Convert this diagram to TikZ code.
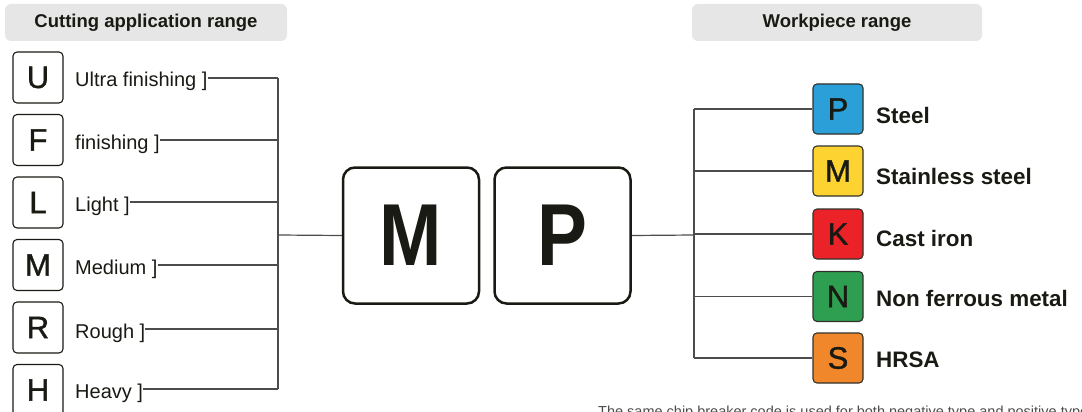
\documentclass[tikz,border=0pt]{standalone}
\usepackage{fontspec}
\setmainfont{Liberation Sans}
\newfontfamily\medfont[FakeBold=1.2]{Liberation Sans}
\definecolor{ink}{HTML}{1A1A14}
\definecolor{hdrgray}{HTML}{E6E6E6}
\definecolor{cP}{HTML}{2A9FD8}
\definecolor{cM}{HTML}{FDD332}
\definecolor{cK}{HTML}{EC2229}
\definecolor{cN}{HTML}{2E9E50}
\definecolor{cS}{HTML}{F0872A}
\newcommand{\narrowltr}[1]{\scalebox{0.85}[1]{#1}}
\begin{document}
\begin{tikzpicture}[x=1pt,y=-1pt,
  hdr/.style={fill=hdrgray, rounded corners=6pt, minimum height=37pt, inner sep=0pt,
    text=ink, font=\bfseries\fontsize{18.5}{20}\selectfont},
  lbox/.style={draw=ink, line width=1.1pt, rounded corners=4pt, fill=white,
    minimum width=50pt, minimum height=51pt, inner sep=0pt, text=ink,
    font=\medfont\fontsize{31}{31}\selectfont},
  cbox/.style={draw=ink!90, line width=1.1pt, rounded corners=4pt,
    minimum width=50pt, minimum height=50pt, inner sep=0pt, text=ink,
    font=\medfont\fontsize{31}{31}\selectfont},
  bigbox/.style={draw=ink, line width=2.5pt, rounded corners=12pt, fill=white,
    minimum width=136pt, minimum height=136pt, inner sep=0pt, text=ink,
    font=\bfseries\fontsize{88}{88}\selectfont},
  lab/.style={anchor=base west, inner sep=0pt, text=ink, font=\fontsize{20}{22}\selectfont},
  rlab/.style={anchor=base west, inner sep=0pt, text=ink, font=\bfseries\fontsize{22.4}{24}\selectfont},
  conn/.style={draw=black!70, line width=1.2pt},
]
\useasboundingbox (0,0) rectangle (1082,412);
\clip (0,0) rectangle (1082,412);

% headers
\node[hdr, minimum width=282pt] (h1) at (146,22.5) {Cutting application range};
\node[hdr, minimum width=290pt] (h2) at (837,22.5) {Workpiece range};

% left letter boxes
\node[lbox] (bU) at (38,77.5) {U};
\node[lbox] (bF) at (38,140) {F};
\node[lbox] (bL) at (38,202.5) {L};
\node[lbox] (bM) at (38,265) {M};
\node[lbox] (bR) at (38,327.5) {R};
\node[lbox] (bH) at (38,390) {H};

% left labels
\node[lab] (tU) at (75,87) {Ultra finishing ]};
\node[lab] (tF) at (75,149) {finishing ]};
\node[lab] (tL) at (75,211) {Light ]};
\node[lab] (tM) at (75,274) {Medium ]};
\node[lab] (tR) at (75,338) {Rough ]};
\node[lab] (tH) at (75,398) {Heavy ]};

% left junctions
\coordinate (jU) at (278,78);
\coordinate (jF) at (278,140);
\coordinate (jL) at (278,202);
\coordinate (jM) at (278,265);
\coordinate (jR) at (278,329);
\coordinate (jH) at (278,389);
\coordinate (jC) at (278,235);

% big boxes
\node[bigbox] (bigM) at (411,235.5) {\narrowltr{M}};
\node[bigbox] (bigP) at (562.5,235.5) {\narrowltr{P}};

% right trunk
\coordinate (tr) at (694,0);
\coordinate (jRC) at (694,235);

% colored boxes
\node[cbox, fill=cP] (kP) at (838,109) {P};
\node[cbox, fill=cM] (kM) at (838,171) {M};
\node[cbox, fill=cK] (kK) at (838,234) {K};
\node[cbox, fill=cN] (kN) at (838,296.5) {N};
\node[cbox, fill=cS] (kS) at (838,358) {S};

% right labels
\node[rlab] (lP) at (876,123) {Steel};
\node[rlab] (lM) at (876,184) {Stainless steel};
\node[rlab] (lK) at (876,246) {Cast iron};
\node[rlab] (lN) at (876,306) {Non ferrous metal};
\node[rlab] (lS) at (876,367) {HRSA};

% connectors left
\draw[conn] (jU -| tU.east) -- (jU);
\draw[conn] (jF -| tF.east) -- (jF);
\draw[conn] (jL -| tL.east) -- (jL);
\draw[conn] (jM -| tM.east) -- (jM);
\draw[conn] (jR -| tR.east) -- (jR);
\draw[conn] (jH -| tH.east) -- (jH);
\draw[conn] (jU) -- (jH);
\draw[conn] (jC) -- (bigM.west);

% connectors right
\draw[conn] (bigP.east) -- (jRC);
\draw[conn] (kP.west -| tr) -- (kS.west -| tr);
\draw[conn] (kP.west -| tr) -- (kP.west);
\draw[conn] (kM.west -| tr) -- (kM.west);
\draw[conn] (kK.west -| tr) -- (kK.west);
\draw[conn] (kN.west -| tr) -- (kN.west);
\draw[conn] (kS.west -| tr) -- (kS.west);

% note (cut off at bottom and right, as in the reference)
\node[anchor=base west, inner sep=0pt, text=black!70, font=\fontsize{14.5}{15}\selectfont] (note) at (598,416)
  {The same chip breaker code is used for both negative type and positive type.};
\end{tikzpicture}
\end{document}
